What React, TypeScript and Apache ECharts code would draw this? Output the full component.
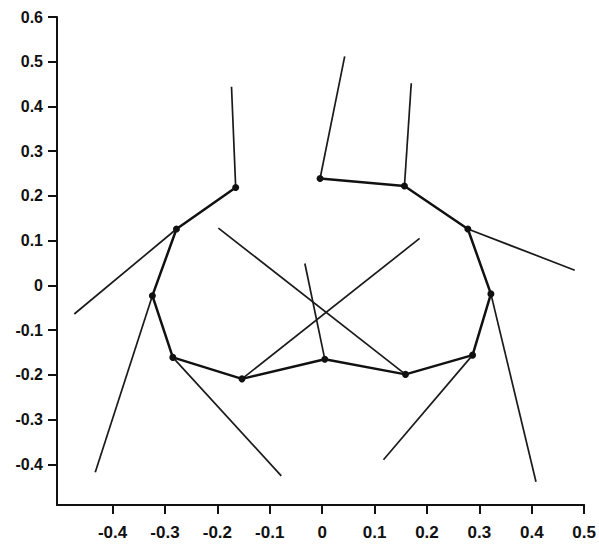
import React, { useEffect, useRef } from "react";
import * as echarts from "echarts";

// Joint positions of the chain (drawn thick, with dots)
const nodeX = [-0.165, -0.278, -0.324, -0.285, -0.153, 0.005, 0.159, 0.287, 0.322, 0.278, 0.157, -0.004];
const nodeY = [0.219, 0.126, -0.023, -0.161, -0.209, -0.165, -0.199, -0.156, -0.019, 0.126, 0.222, 0.239];

// Free end of the thin spoke that leaves each joint
const spokeX = [-0.173, -0.473, -0.433, -0.078, 0.186, -0.033, -0.198, 0.117, 0.408, 0.482, 0.17, 0.043];
const spokeY = [0.444, -0.064, -0.418, -0.426, 0.105, 0.049, 0.128, -0.39, -0.439, 0.034, 0.452, 0.512];

// Tick positions along each axis
const xTicks = [-0.4, -0.3, -0.2, -0.1, 0, 0.1, 0.2, 0.3, 0.4, 0.5];
const yTicks = [-0.4, -0.3, -0.2, -0.1, 0, 0.1, 0.2, 0.3, 0.4, 0.5, 0.6];

const X_MIN = -0.506;
const X_MAX = 0.5;
const Y_MIN = -0.491;
const Y_MAX = 0.6;

export default function App() {
  const ref = useRef<HTMLDivElement>(null);

  useEffect(() => {
    document.body.style.margin = "0";
    if (!ref.current) return;
    const chart = echarts.init(ref.current, null, { renderer: "svg" });

    const chain = nodeX.map((x, i) => [x, nodeY[i]]);
    const spokes = nodeX.map((x, i) => ({
      coords: [
        [x, nodeY[i]],
        [spokeX[i], spokeY[i]],
      ],
    }));

    const labelStyle = {
      color: "#111",
      fontFamily: "Liberation Sans, Arial, sans-serif",
      fontWeight: "bold" as const,
    };
    const axisLine = { show: true, onZero: false, lineStyle: { color: "#111", width: 2 } };
    const tickStyle = { color: "#111", width: 2 };

    chart.setOption({
      animation: false,
      backgroundColor: "#fff",
      grid: { left: 57, right: 11, top: 17, bottom: 40, containLabel: false },
      xAxis: {
        type: "value",
        min: X_MIN,
        max: X_MAX,
        splitLine: { show: false },
        axisLine,
        axisTick: { show: true, length: 9, customValues: xTicks, lineStyle: tickStyle },
        axisLabel: { ...labelStyle, fontSize: 17, margin: 19, customValues: xTicks },
      },
      yAxis: {
        type: "value",
        min: Y_MIN,
        max: Y_MAX,
        splitLine: { show: false },
        axisLine,
        axisTick: { show: true, length: 9, customValues: yTicks, lineStyle: tickStyle },
        axisLabel: { ...labelStyle, fontSize: 16, margin: 14, customValues: yTicks },
      },
      series: [
        {
          type: "lines",
          coordinateSystem: "cartesian2d",
          polyline: false,
          silent: true,
          lineStyle: { color: "#1a1a1a", width: 1.7, opacity: 1 },
          data: spokes,
          z: 2,
        },
        {
          type: "line",
          data: chain,
          symbol: "circle",
          symbolSize: 7,
          showSymbol: true,
          itemStyle: { color: "#111" },
          lineStyle: { color: "#111", width: 2.5 },
          z: 3,
        },
      ],
    });

    return () => chart.dispose();
  }, []);

  return <div ref={ref} style={{ width: 599, height: 545 }} />;
}
